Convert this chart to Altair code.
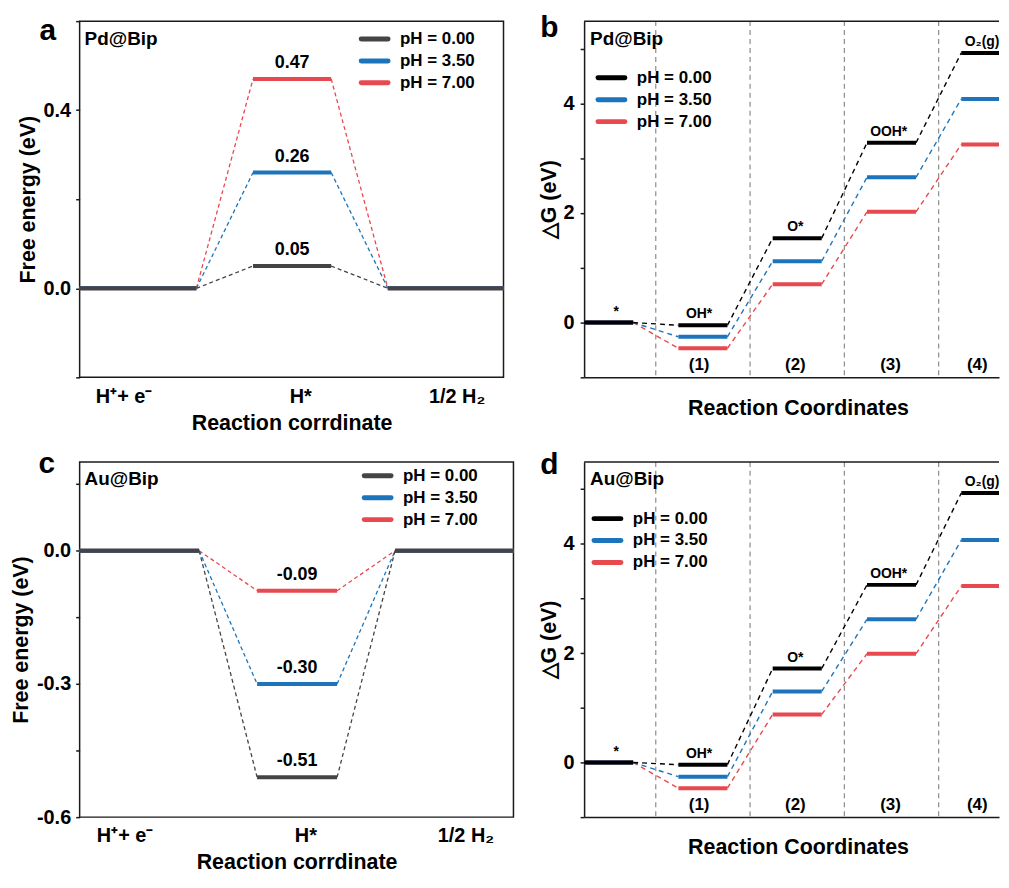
import altair as alt
import pandas as pd

FONT = "Liberation Sans"

# ---------------- data ----------------
series = ["pH = 0.00", "pH = 3.50", "pH = 7.00"]
her_colors = ["#444444", "#1c75bc", "#e8494f"]
oer_colors = ["#000000", "#1c75bc", "#e8494f"]

# HER (panels a, c): free energy of H* for each pH
her_states = ["H⁺+ e⁻", "H*", "1/2 H₂"]
her_state_pos = [-0.25, 1.06, 2.22]
pd_her = [0.05, 0.26, 0.47]
au_her = [-0.51, -0.30, -0.09]

# OER (panels b, d): free energies of the intermediates
oer_species = ["*", "OH*", "O*", "OOH*", "O₂(g)"]
oer_species_pos = [0.34, 1.22, 2.24, 3.23, 4.22]
oer_steps = ["(1)", "(2)", "(3)", "(4)"]
oer_steps_pos = [1.22, 2.24, 3.25, 4.17]
oer_separators = [0.76, 1.76, 2.76, 3.76]
pd_oer_ph0 = [0, -0.05, 1.54, 3.28, 4.92]
pd_oer_ph35 = [0, -0.26, 1.12, 2.65, 4.08]
pd_oer_ph7 = [0, -0.47, 0.70, 2.02, 3.25]
au_oer_ph0 = [0, -0.04, 1.72, 3.25, 4.93]
au_oer_ph35 = [0, -0.26, 1.30, 2.62, 4.07]
au_oer_ph7 = [0, -0.47, 0.88, 1.99, 3.23]

# ---------------- geometry (data units) ----------------
HER_XMIN, HER_XMAX, HER_HW = -0.576, 2.568, 0.29
OER_XMAX, OER_W = 4.4, 0.52


def label_expr(vals, labels):
    expr = "''"
    for v, t in reversed(list(zip(vals, labels))):
        expr = f"datum.value == {v} ? '{t}' : {expr}"
    return expr


def legend_layers(colors, x0, y0):
    layers = []
    for i, (s, col) in enumerate(zip(series, colors)):
        df = pd.DataFrame({"series": [s]})
        y = y0 + 22 * i
        layers.append(
            alt.Chart(df).mark_rule(color=col, strokeWidth=5, strokeCap="round").encode(
                x=alt.value(x0), x2=alt.value(x0 + 27), y=alt.value(y)
            )
        )
        layers.append(
            alt.Chart(df).mark_text(align="left", baseline="middle", fontSize=17,
                                    fontWeight="bold", color="black", font=FONT).encode(
                x=alt.value(x0 + 39), y=alt.value(y), text="series:N"
            )
        )
    return layers


def text_layer(t, x, y, size, baseline="alphabetic", align="left"):
    return alt.Chart(pd.DataFrame({"t": [t]})).mark_text(
        align=align, baseline=baseline, fontSize=size, fontWeight="bold",
        color="black", font=FONT
    ).encode(x=alt.value(x), y=alt.value(y), text="t:N")


def her_panel(hvals, width, height, ydomain, ytick_vals, ylabel_vals,
              letter, letter_x, letter_y, name, name_y, leg_x, leg_y):
    levels, links, vlabels = [], [], []
    for s, v in reversed(list(zip(series, hvals))):
        ys = [0.0, v, 0.0]
        for i, y in enumerate(ys):
            x1 = HER_XMIN if i == 0 else i - HER_HW
            x2 = HER_XMAX if i == len(ys) - 1 else i + HER_HW
            levels.append(dict(series=s, x=x1, x2=x2, y=y))
        for i in range(len(ys) - 1):
            links.append(dict(series=s, x=i + HER_HW, x2=i + 1 - HER_HW,
                              y=ys[i], y2=ys[i + 1]))
        vlabels.append(dict(series=s, x=1, y=v, t=f"{v:.2f}"))
    lv, lk, vl = pd.DataFrame(levels), pd.DataFrame(links), pd.DataFrame(vlabels)

    color = alt.Color("series:N", scale=alt.Scale(domain=series, range=her_colors), legend=None)
    xscale = alt.Scale(domain=[HER_XMIN, HER_XMAX], nice=False, zero=False)
    yscale = alt.Scale(domain=ydomain, nice=False, zero=False)
    xaxis = alt.Axis(values=her_state_pos, labelExpr=label_expr(her_state_pos, her_states),
                     ticks=False, tickSize=0, domain=False, labelPadding=9, labelAngle=0,
                     title="Reaction corrdinate", titlePadding=6)
    yaxis = alt.Axis(values=ytick_vals,
                     labelExpr=label_expr(ylabel_vals, [f"{v:.1f}" for v in ylabel_vals]),
                     tickSize=4, labelPadding=5, domain=False,
                     title="Free energy (eV)", titlePadding=4)
    X = alt.X("x:Q", scale=xscale, axis=xaxis)
    Y = alt.Y("y:Q", scale=yscale, axis=yaxis)

    lines = alt.Chart(lk).mark_rule(strokeWidth=1.3, strokeDash=[4, 3]).encode(
        x=X, x2="x2:Q", y=Y, y2="y2:Q", color=color)
    lev = alt.Chart(lv).mark_rule(strokeWidth=4).encode(x=X, x2="x2:Q", y=Y, color=color)
    vtxt = alt.Chart(vl).mark_text(dy=-16, fontSize=18, fontWeight="bold", color="black",
                                   font=FONT).encode(x=X, y=Y, text="t:N")

    layers = [lines, lev, vtxt,
              text_layer(letter, letter_x, letter_y, 30, align="center"),
              text_layer(name, 5, name_y, 19)]
    layers += legend_layers(her_colors, leg_x, leg_y)
    return alt.layer(*layers).properties(
        width=width, height=height,
        view=alt.ViewBackground(stroke="#1a1a1a", strokeWidth=1.5))


def oer_panel(vals, width, height, letter, letter_x, letter_y, name, name_y, leg_x, leg_y):
    levels, links = [], []
    for s, ys in reversed(list(zip(series, vals))):
        for i, y in enumerate(ys):
            x2 = OER_XMAX if i == len(ys) - 1 else i + OER_W
            levels.append(dict(series=s, x=i, x2=x2, y=y))
        for i in range(len(ys) - 1):
            links.append(dict(series=s, x=i + OER_W, x2=i + 1, y=ys[i], y2=ys[i + 1]))
    lv, lk = pd.DataFrame(levels), pd.DataFrame(links)
    sp = pd.DataFrame({"x": oer_species_pos, "y": vals[0], "t": oer_species})
    st = pd.DataFrame({"x": oer_steps_pos, "y": [-0.78] * len(oer_steps), "t": oer_steps})
    sep = pd.DataFrame({"x": oer_separators})
    top = pd.DataFrame({"x": [0], "x2": [OER_XMAX]})

    color = alt.Color("series:N", scale=alt.Scale(domain=series, range=oer_colors), legend=None)
    xscale = alt.Scale(domain=[0, OER_XMAX], nice=False, zero=False)
    yscale = alt.Scale(domain=[-1, 5.5], nice=False, zero=False)
    xaxis = alt.Axis(labels=False, ticks=False, domain=True, title="Reaction Coordinates",
                     titlePadding=20, values=[0], titleX=215)
    yaxis = alt.Axis(values=[-1, 0, 1, 2, 3, 4, 5],
                     labelExpr=label_expr([0, 2, 4], ["0", "2", "4"]),
                     tickSize=4, labelPadding=6, domain=True,
                     title="△G (eV)", titlePadding=3)
    X = alt.X("x:Q", scale=xscale, axis=xaxis)
    Y = alt.Y("y:Q", scale=yscale, axis=yaxis)

    seps = alt.Chart(sep).mark_rule(color="#8c8c8c", strokeWidth=1.2, strokeDash=[5, 4]).encode(x=X)
    lines = alt.Chart(lk).mark_rule(strokeWidth=1.4, strokeDash=[5, 4]).encode(
        x=X, x2="x2:Q", y=Y, y2="y2:Q", color=color)
    lev = alt.Chart(lv).mark_rule(strokeWidth=4).encode(x=X, x2="x2:Q", y=Y, color=color)
    sptxt = alt.Chart(sp).mark_text(dy=-7, baseline="alphabetic", fontSize=14,
                                    fontWeight="bold", color="black", font=FONT).encode(
        x=X, y=Y, text="t:N")
    sttxt = alt.Chart(st).mark_text(baseline="middle", fontSize=17, fontWeight="bold",
                                    color="black", font=FONT).encode(x=X, y=Y, text="t:N")
    topline = alt.Chart(top).mark_rule(color="#1a1a1a", strokeWidth=1.5).encode(
        x=X, x2="x2:Q", y=alt.value(0))

    layers = [seps, lines, lev, sptxt, sttxt, topline,
              text_layer(letter, letter_x, letter_y, 30, align="center"),
              text_layer(name, 6, name_y, 19)]
    layers += legend_layers(oer_colors, leg_x, leg_y)
    return alt.layer(*layers).properties(width=width, height=height,
                                         view=alt.ViewBackground(stroke=None))


panel_a = her_panel(pd_her, 426, 358, [-0.2, 0.6], [-0.2, 0.0, 0.2, 0.4, 0.6], [0.0, 0.4],
                    "a", -32, 19, "Pd@Bip", 24, 283, 18)
panel_c = her_panel(au_her, 436, 357, [-0.6, 0.2], [-0.6, -0.45, -0.3, -0.15, 0.0, 0.15],
                    [-0.6, -0.3, 0.0], "c", -33, 11, "Au@Bip", 23, 286, 14)
panel_b = oer_panel([pd_oer_ph0, pd_oer_ph35, pd_oer_ph7], 417, 358,
                    "b", -35, 16, "Pd@Bip", 24, 14, 57)
panel_d = oer_panel([au_oer_ph0, au_oer_ph35, au_oer_ph7], 417, 357,
                    "d", -35, 12, "Au@Bip", 23, 10, 57)

chart = alt.concat(
    panel_a, panel_b, panel_c, panel_d, columns=2,
    spacing=alt.RowColnumber(row=13, column=21)
).resolve_scale(
    color="independent", x="independent", y="independent"
).properties(
    padding={"left": 1, "top": 3, "right": 0, "bottom": 4}
).configure(
    font=FONT, background="white"
).configure_view(
    stroke=None
).configure_axis(
    labelFont=FONT, titleFont=FONT, labelFontWeight="bold", titleFontWeight="bold",
    labelColor="black", titleColor="black", tickColor="#1a1a1a", domainColor="#1a1a1a",
    domainWidth=1.5, tickWidth=1.5, grid=False, labelFlush=False,
    labelFontSize=20, titleFontSize=21.5
)

chart.save("out.html", embed_options={"renderer": "svg", "actions": False})
